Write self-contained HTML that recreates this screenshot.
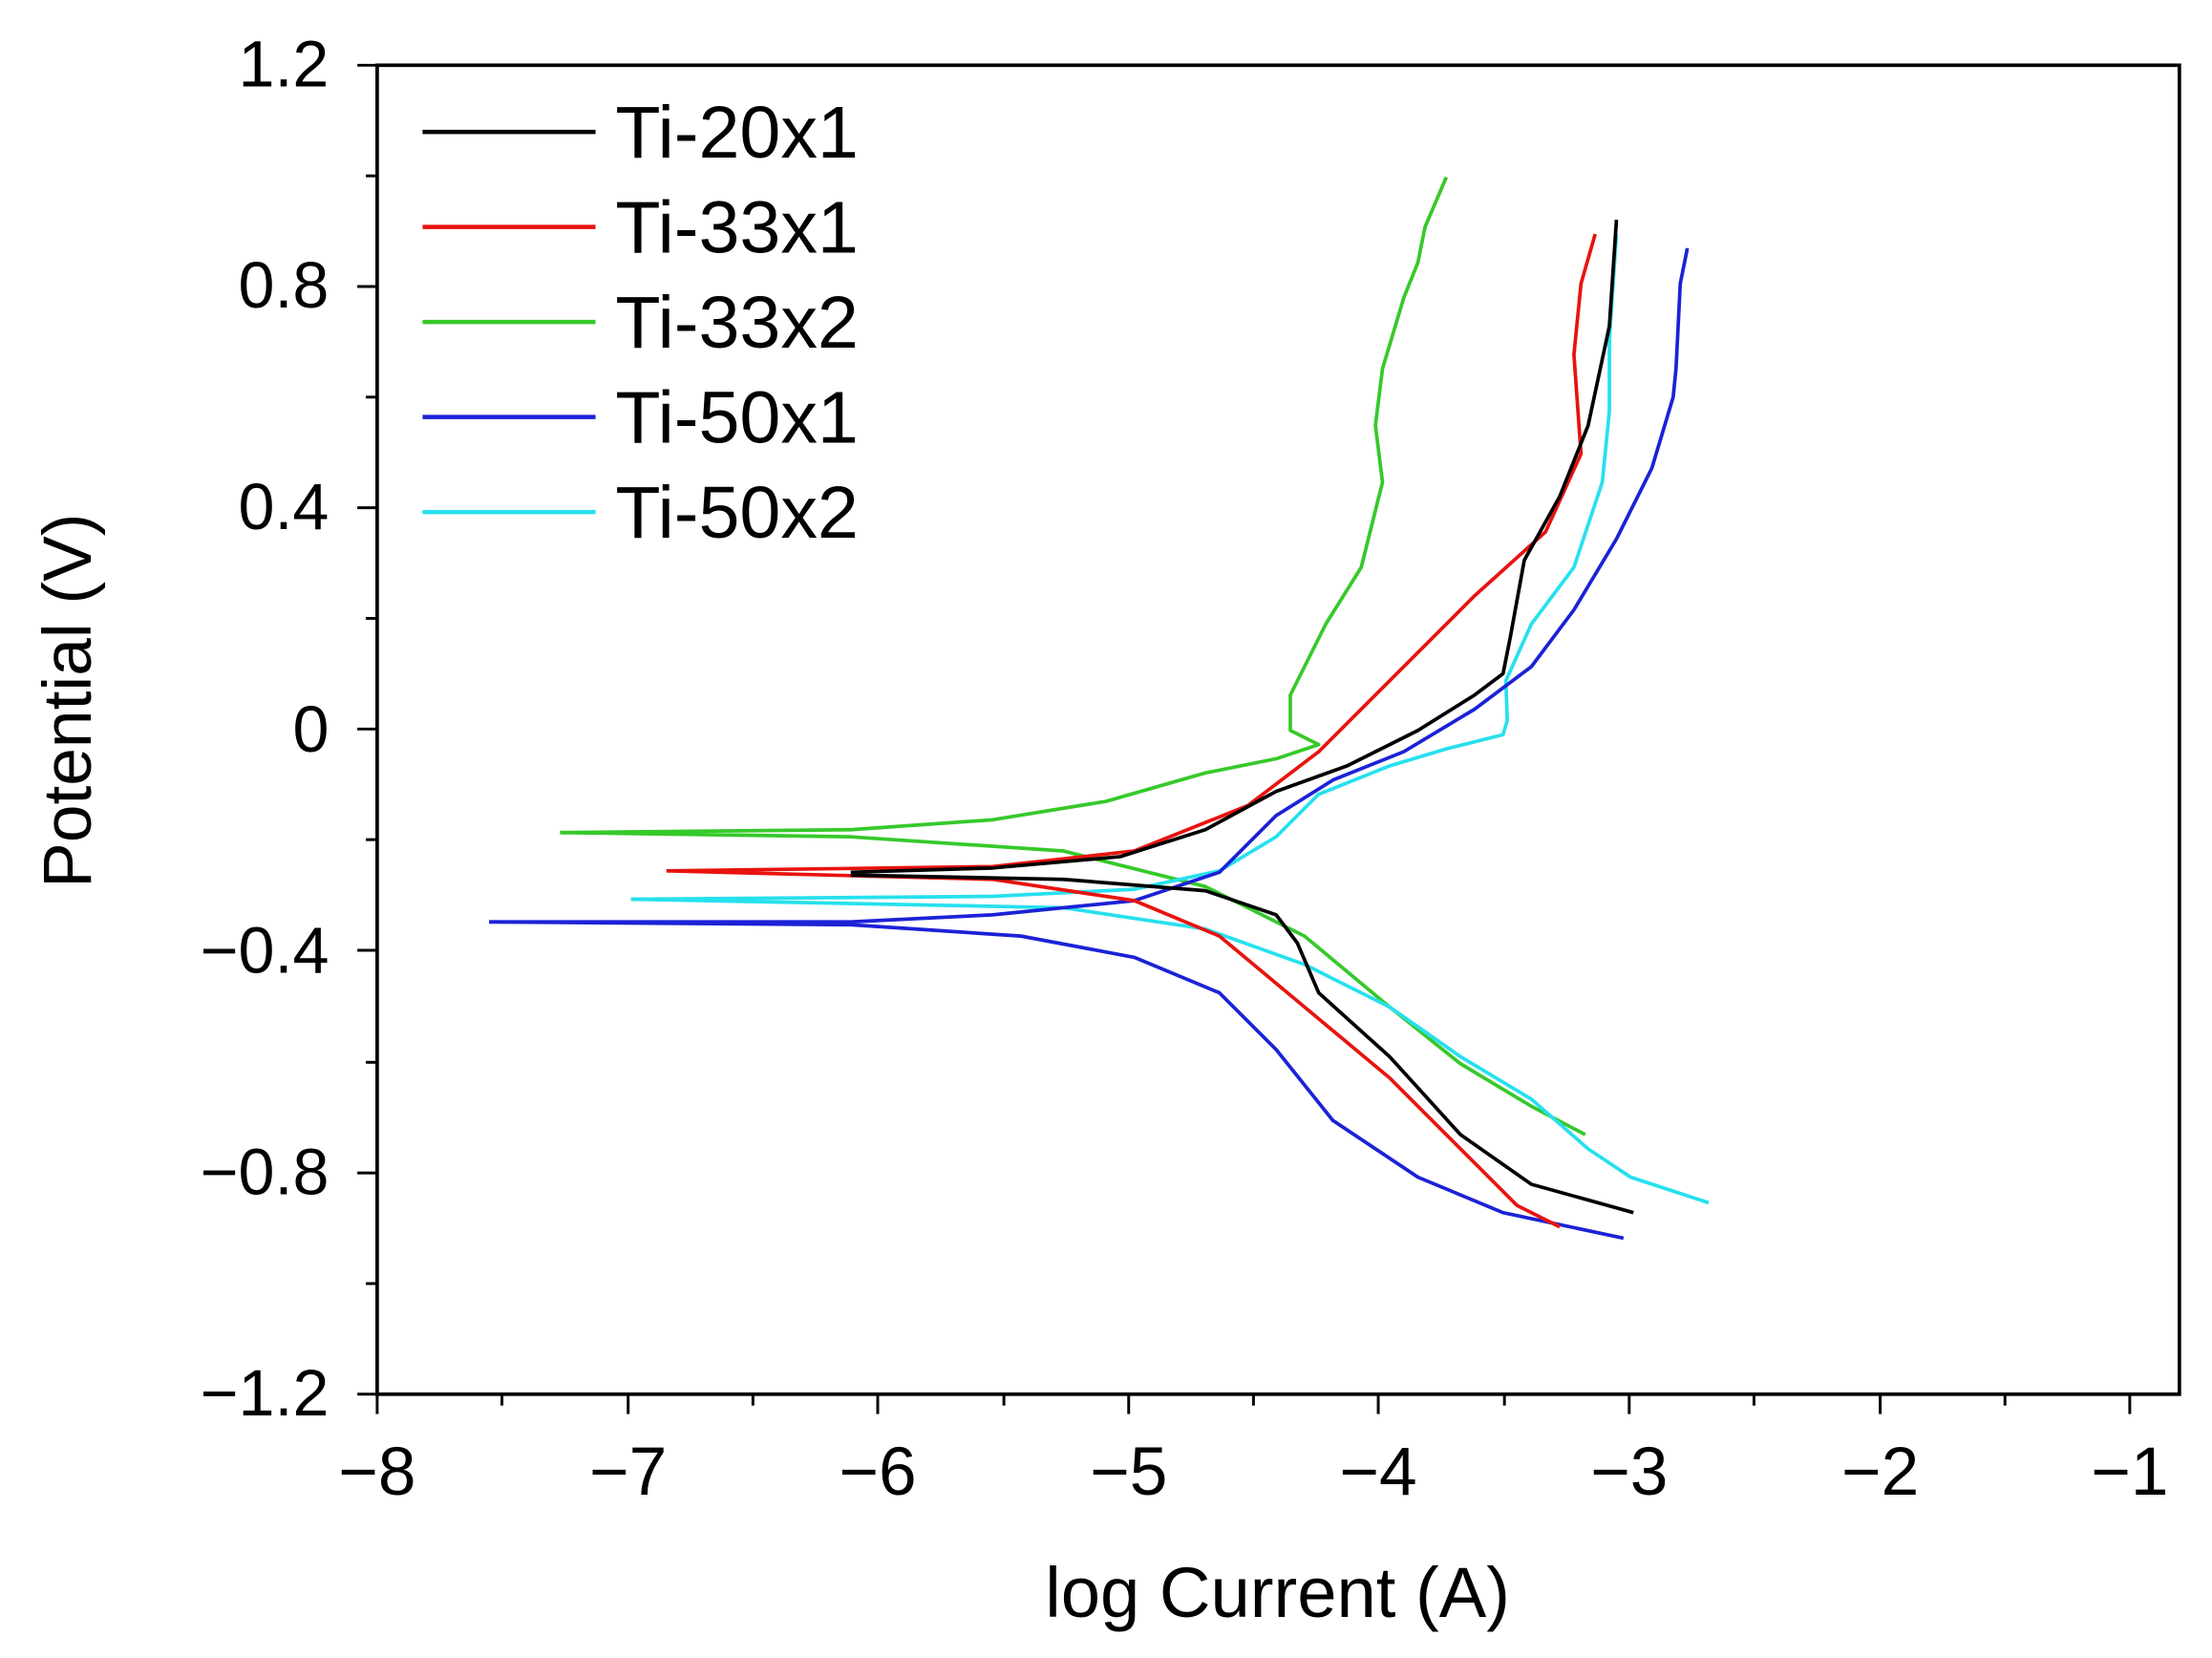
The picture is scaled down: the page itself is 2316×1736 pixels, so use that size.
<!DOCTYPE html>
<html><head><style>html,body{margin:0;padding:0;background:#fff;}svg{display:block;}</style></head>
<body>
<svg width="2316" height="1736" viewBox="0 0 1560 1169" preserveAspectRatio="none" xmlns="http://www.w3.org/2000/svg" font-family="Liberation Sans, Arial, sans-serif">
<rect width="1560" height="1169" fill="#fff"/>
<rect x="266" y="46" width="1271" height="937" fill="none" stroke="#000" stroke-width="2.5"/>
<g stroke="#000" stroke-width="2">
<line x1="266" y1="983" x2="266" y2="997"/><line x1="354" y1="983" x2="354" y2="991"/>
<line x1="443" y1="983" x2="443" y2="997"/><line x1="531" y1="983" x2="531" y2="991"/>
<line x1="619" y1="983" x2="619" y2="997"/><line x1="708" y1="983" x2="708" y2="991"/>
<line x1="796" y1="983" x2="796" y2="997"/><line x1="884" y1="983" x2="884" y2="991"/>
<line x1="972" y1="983" x2="972" y2="997"/><line x1="1061" y1="983" x2="1061" y2="991"/>
<line x1="1149" y1="983" x2="1149" y2="997"/><line x1="1237" y1="983" x2="1237" y2="991"/>
<line x1="1326" y1="983" x2="1326" y2="997"/><line x1="1414" y1="983" x2="1414" y2="991"/>
<line x1="1502" y1="983" x2="1502" y2="997"/>
<line x1="252" y1="46" x2="266" y2="46"/><line x1="258" y1="124" x2="266" y2="124"/>
<line x1="252" y1="202" x2="266" y2="202"/><line x1="258" y1="280" x2="266" y2="280"/>
<line x1="252" y1="358" x2="266" y2="358"/><line x1="258" y1="436" x2="266" y2="436"/>
<line x1="252" y1="514" x2="266" y2="514"/><line x1="258" y1="592" x2="266" y2="592"/>
<line x1="252" y1="670" x2="266" y2="670"/><line x1="258" y1="749" x2="266" y2="749"/>
<line x1="252" y1="827" x2="266" y2="827"/><line x1="258" y1="905" x2="266" y2="905"/>
<line x1="252" y1="983" x2="266" y2="983"/>
</g>
<g font-size="46" text-anchor="end" fill="#000">
<text x="232" y="61">1.2</text><text x="232" y="217">0.8</text><text x="232" y="373">0.4</text>
<text x="232" y="530">0</text><text x="232" y="686">−0.4</text><text x="232" y="842">−0.8</text><text x="232" y="998">−1.2</text>
</g>
<g font-size="48" text-anchor="middle" fill="#000">
<text x="266" y="1054">−8</text><text x="443" y="1054">−7</text><text x="619" y="1054">−6</text>
<text x="796" y="1054">−5</text><text x="972" y="1054">−4</text><text x="1149" y="1054">−3</text>
<text x="1326" y="1054">−2</text><text x="1502" y="1054">−1</text>
</g>
<text x="901" y="1140" font-size="50" text-anchor="middle">log Current (A)</text>
<text transform="translate(64,494) rotate(-90)" font-size="48" text-anchor="middle">Potential (V)</text>
<g font-size="52" fill="#000">
<line x1="298" y1="93" x2="420" y2="93" stroke="#000" stroke-width="3"/><text x="434" y="111">Ti-20x1</text>
<line x1="298" y1="160" x2="420" y2="160" stroke="#e8130f" stroke-width="3"/><text x="434" y="178">Ti-33x1</text>
<line x1="298" y1="227" x2="420" y2="227" stroke="#36c92a" stroke-width="3"/><text x="434" y="245">Ti-33x2</text>
<line x1="298" y1="294" x2="420" y2="294" stroke="#1b22d6" stroke-width="3"/><text x="434" y="312">Ti-50x1</text>
<line x1="298" y1="361" x2="420" y2="361" stroke="#27e0ee" stroke-width="3"/><text x="434" y="379">Ti-50x2</text>
</g>
<g fill="none" stroke-width="2.5" stroke-linejoin="round">
<polyline stroke="#36c92a" points="395,587 600,585 700,578 780,565 850,545 900,535 930,525 910,515 910,490 935,440 960,400 975,340 970,300 975,260 990,210 1000,185 1005,160 1020,125"/>
<polyline stroke="#36c92a" points="395,587 600,590 750,600 850,625 920,660 980,710 1030,750 1080,780 1118,800"/>
<polyline stroke="#27e0ee" points="445,634 700,632 800,627 860,614 900,590 930,560 980,540 1020,528 1060,518 1063,508 1062,480 1080,440 1110,400 1130,340 1135,290 1135,240 1140,165"/>
<polyline stroke="#27e0ee" points="445,634 750,640 850,655 920,680 980,710 1030,745 1080,775 1120,810 1150,830 1205,848"/>
<polyline stroke="#1b22d6" points="345,650 600,650 700,645 800,635 860,615 900,575 940,550 990,530 1040,500 1080,470 1110,430 1140,380 1165,330 1180,280 1182,260 1185,200 1190,175"/>
<polyline stroke="#1b22d6" points="345,650 600,652 720,660 800,675 860,700 900,740 940,790 1000,830 1060,855 1145,873"/>
<polyline stroke="#e8130f" points="470,614 700,611 800,600 880,568 930,530 980,480 1040,420 1090,375 1115,320 1110,250 1115,200 1125,165"/>
<polyline stroke="#e8130f" points="470,614 700,620 800,635 860,660 920,710 980,760 1040,820 1070,850 1100,865"/>
<polyline stroke="#000" points="600,615 700,612 790,604 850,585 900,558 950,540 1000,515 1040,490 1060,475 1065,450 1075,395 1100,350 1120,300 1135,230 1140,155"/>
<polyline stroke="#000" points="600,617 750,620 850,628 900,645 915,665 930,700 980,745 1030,800 1080,835 1152,855"/>
</g>
</svg>
</body></html>
